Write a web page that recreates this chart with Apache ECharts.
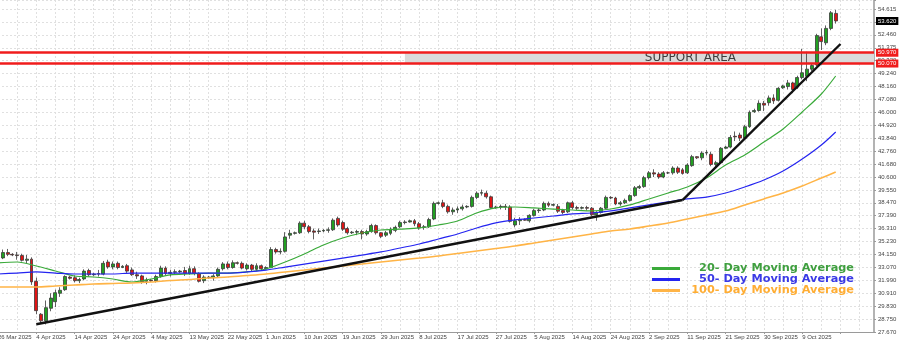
<!DOCTYPE html>
<html><head><meta charset="utf-8">
<script src="https://cdn.jsdelivr.net/npm/echarts@6/dist/echarts.min.js"></script>
<style>html,body{margin:0;padding:0;background:#fff;overflow:hidden}#c{width:905px;height:340px;margin-left:-5px}</style>
</head><body><div id="c"></div>
<script>
// ---- tick labels ----
const tickLabels = ['26 Mar 2025','4 Apr 2025','14 Apr 2025','24 Apr 2025','4 May 2025','13 May 2025','22 May 2025','1 Jun 2025','10 Jun 2025','19 Jun 2025','29 Jun 2025','8 Jul 2025','17 Jul 2025','27 Jul 2025','5 Aug 2025','14 Aug 2025','24 Aug 2025','2 Sep 2025','11 Sep 2025','21 Sep 2025','30 Sep 2025','9 Oct 2025'];
const yTickLabels = ['27.670','28.750','29.830','30.910','31.990','33.070','34.150','35.230','36.310','37.390','38.470','39.550','40.600','41.680','42.760','43.840','44.920','46.000','47.080','48.160','49.240','50.320','51.375','52.460','53.540','54.615'];
const yMin = 27.67, yStep = 1.078, yMax = 55.37;

// ---- daily candles (26 Mar 2025 .. 17 Oct 2025, incl. Sunday bars) ----
const opens = [
33.90,33.85,34.30,34.15,34.10,34.05,33.65,33.75,
31.90,29.15,28.60,29.65,30.20,30.90,31.20,32.25,
32.20,31.95,32.10,32.80,32.45,32.55,32.50,33.50,
33.10,33.40,33.05,33.20,32.85,32.45,32.35,31.90,
32.00,31.95,32.30,33.00,32.55,32.65,32.70,32.80,
32.55,32.95,32.55,31.95,32.25,32.20,32.35,32.95,
33.35,33.05,33.45,33.40,32.95,33.25,32.90,33.20,
32.95,33.05,34.55,34.35,34.40,35.75,35.90,35.95,
36.75,36.45,36.10,36.05,36.10,36.15,36.20,37.15,
36.80,36.30,35.95,36.00,36.05,35.85,36.05,36.55,
35.95,35.75,35.90,36.15,36.45,36.80,36.85,36.95,
36.70,36.40,36.45,37.10,38.40,38.45,38.15,37.70,
37.85,37.95,38.10,38.15,38.90,39.25,39.25,38.95,
38.05,38.10,38.15,38.10,36.60,36.95,37.05,36.95,
37.40,37.80,37.85,38.40,38.25,38.15,37.80,37.70,
38.45,38.05,38.00,38.05,38.00,37.45,37.65,38.00,
38.90,38.85,38.35,38.45,38.65,39.05,39.70,39.80,
40.55,40.95,40.85,40.60,40.95,40.95,41.35,41.20,
40.95,41.55,42.30,42.20,42.60,42.50,41.65,41.80,
43.00,43.10,44.00,44.10,43.85,44.80,46.05,46.15,
46.75,46.80,47.20,47.00,48.05,48.15,48.45,48.10,
48.90,49.00,49.60,49.95,52.30,51.80,53.00,54.25];
const closes = [
34.10,34.30,34.15,34.10,34.05,33.65,33.75,31.85,
29.45,28.60,29.70,30.50,30.95,31.15,32.30,32.15,
31.95,32.05,32.75,32.45,32.50,32.50,33.40,33.10,
33.35,33.05,33.15,32.75,32.45,32.35,31.85,32.00,
31.95,32.30,33.00,32.55,32.65,32.70,32.75,32.55,
32.95,32.55,31.90,32.25,32.20,32.35,32.90,33.35,
33.05,33.45,33.40,33.00,33.25,32.90,33.20,32.95,
33.05,34.55,34.35,34.40,35.60,35.90,35.95,36.75,
36.45,36.05,36.00,36.10,36.15,36.20,37.00,36.60,
36.25,35.95,36.00,36.05,35.85,36.05,36.55,35.95,
35.65,35.95,36.25,36.40,36.80,36.85,36.95,36.70,
36.35,36.45,37.05,38.40,38.45,38.15,37.70,37.85,
37.95,38.10,38.15,38.90,39.25,39.30,38.95,38.05,
38.10,38.15,38.10,36.90,36.95,37.05,37.00,37.40,
37.80,37.85,38.40,38.25,38.30,37.75,37.65,38.45,
38.05,38.00,38.05,38.00,37.45,37.65,38.00,38.90,
38.85,38.35,38.45,38.65,39.05,39.70,39.80,40.55,
40.95,40.85,40.60,40.95,40.95,41.35,41.00,40.90,
41.60,42.30,42.20,42.60,42.65,41.65,41.80,43.00,
43.10,43.90,43.95,43.85,44.80,46.00,46.15,46.75,
46.60,47.20,46.95,48.00,48.20,48.45,47.90,48.90,
49.30,49.60,49.90,52.40,51.90,53.00,54.30,53.62];
const lows = [
33.70,33.75,34.00,34.00,33.70,33.55,33.40,31.60,
29.15,28.40,28.30,29.40,29.75,30.60,31.10,32.05,
31.80,31.75,32.00,32.30,32.35,32.30,32.40,32.95,
32.90,32.90,33.00,32.60,32.35,32.10,31.70,31.65,
31.85,31.80,32.20,32.40,32.30,32.45,32.60,32.35,
32.45,32.40,31.80,31.75,32.10,31.95,32.20,32.80,
32.90,32.95,33.30,32.90,32.80,32.75,32.75,32.80,
32.90,33.00,34.20,34.15,34.30,35.45,35.80,35.85,
36.25,35.90,35.40,35.85,36.00,35.95,36.10,36.45,
36.10,35.80,35.85,35.75,35.40,35.70,35.95,35.80,
35.50,35.60,35.75,36.00,36.35,36.65,36.80,36.50,
36.20,36.20,36.35,37.00,38.30,38.00,37.55,37.45,
37.60,37.80,38.00,38.05,38.75,39.05,38.80,37.95,
37.95,37.90,37.85,36.80,36.40,36.60,36.95,36.80,
37.30,37.60,37.75,38.10,38.15,37.60,37.50,37.60,
37.90,37.85,37.90,37.80,37.35,36.95,37.55,37.90,
38.75,38.25,38.20,38.35,38.55,38.95,39.60,39.70,
40.40,40.60,40.45,40.50,40.85,40.80,40.85,40.80,
40.85,41.45,42.10,42.00,42.40,41.50,41.40,41.70,
42.95,43.00,43.60,43.60,43.70,44.70,45.95,46.05,
46.10,46.55,46.70,46.90,47.95,47.90,47.60,47.95,
48.75,48.60,49.45,49.85,51.20,51.60,52.85,53.40];
const highs = [
34.35,34.55,34.60,34.25,34.35,34.20,34.10,33.90,
32.20,29.25,30.30,30.90,31.20,31.40,32.40,32.35,
32.40,32.20,32.90,32.95,32.60,32.85,33.60,33.70,
33.55,33.55,33.25,33.35,33.05,32.70,32.45,32.20,
32.10,32.45,33.20,33.15,32.85,32.90,32.85,33.10,
33.20,33.15,32.65,32.40,32.35,32.50,33.05,33.50,
33.55,33.65,33.55,33.55,33.40,33.35,33.40,33.30,
33.15,34.75,34.70,34.65,36.00,36.20,36.05,36.90,
36.95,36.60,36.30,36.30,36.25,36.40,37.15,37.30,
36.95,36.45,36.10,36.20,36.20,36.20,36.70,36.65,
36.00,36.10,36.40,36.55,36.95,37.00,37.05,37.10,
36.85,36.60,37.20,38.55,38.55,38.70,38.30,38.05,
38.15,38.30,38.25,39.05,39.40,39.55,39.45,39.05,
38.20,38.30,38.35,38.25,37.20,37.25,37.15,37.50,
37.95,38.00,38.55,38.55,38.40,38.35,37.95,38.55,
38.60,38.20,38.15,38.20,38.10,37.75,38.10,39.05,
39.00,38.95,38.60,38.80,39.15,39.85,39.95,40.70,
41.10,41.25,41.00,41.10,41.05,41.50,41.50,41.35,
41.75,42.45,42.35,42.75,42.85,42.70,41.95,43.10,
43.20,44.10,44.40,44.30,44.95,46.15,46.30,47.00,
46.95,47.40,47.50,48.10,48.30,48.70,48.55,49.05,
51.30,51.05,50.10,52.55,53.00,53.25,54.45,54.55];

// ---- moving averages, read at every 4th bar ----
const maIdx = [0,4,8,12,16,20,24,28,32,36,40,44,48,52,56,60,64,68,72,76,80,84,88,92,96,100,104,108,112,116,120,124,128,132,136,140,144,148,152,156,160,164,168,172,175];
const ma20 = [33.43,33.51,33.18,32.76,32.34,32.26,32.09,31.84,32.09,32.43,32.51,32.59,32.59,32.68,32.93,33.51,34.18,34.93,35.51,35.93,36.18,36.26,36.35,36.60,36.93,37.60,38.02,38.10,38.02,37.93,37.85,37.77,37.93,38.27,38.77,39.27,39.77,40.52,41.60,42.44,43.52,44.61,46.03,47.53,49.03];
const ma50 = [32.51,32.59,32.68,32.59,32.51,32.51,32.51,32.59,32.59,32.59,32.59,32.59,32.59,32.68,32.84,33.09,33.34,33.59,33.84,34.09,34.35,34.68,35.01,35.43,35.85,36.35,36.77,37.02,37.18,37.35,37.52,37.60,37.77,38.02,38.27,38.52,38.77,38.93,39.27,39.77,40.35,41.10,42.10,43.27,44.36];
const ma100 = [31.42,31.42,31.42,31.51,31.59,31.68,31.72,31.76,31.84,31.97,32.05,32.18,32.26,32.38,32.51,32.68,32.84,33.01,33.18,33.34,33.51,33.68,33.84,34.01,34.22,34.43,34.64,34.85,35.10,35.35,35.60,35.85,36.10,36.26,36.51,36.77,37.10,37.43,37.77,38.27,38.77,39.27,39.85,40.52,41.02];

// ---- annotations ----
const supportLevels = [50.97, 50.07];
const supportStartBar = 85;
const trendLower = [[8, 28.32], [143, 38.68]];
const trendSteep = [[143, 38.68], [176, 51.70]];
const seriesNames = ['20- Day Moving Average', '50- Day Moving Average', '100- Day Moving Average'];
const slotCount = 184; // bars plus right-hand empty space

// categories: trading days (with Sunday sessions), Saturdays and Good Friday skipped
const categories = [];
{
  let t = Date.UTC(2025, 2, 26);
  while (categories.length < slotCount) {
    const d = new Date(t);
    const iso = d.toISOString().slice(0, 10);
    if (d.getUTCDay() !== 6 && iso !== '2025-04-18') categories.push(iso);
    t += 86400000;
  }
}

const candleData = opens.map((o, i) => [o, closes[i], lows[i], highs[i]]);
const pairs = vals => maIdx.map((x, j) => [x, vals[j]]);
const lastClose = closes[closes.length - 1];

const chart = echarts.init(document.getElementById('c'), null, { renderer: 'canvas' });
const every = n => (idx) => idx % n === 0;
const legendKey = { [seriesNames[0]]: 'g', [seriesNames[1]]: 'b', [seriesNames[2]]: 'o' };
const richBase = { width: 169, align: 'right', fontFamily: 'DejaVu Sans', fontWeight: 'bold', fontSize: 11.3, height: 9, lineHeight: 9 };

chart.setOption({
  animation: false,
  backgroundColor: '#ffffff',
  grid: { left: 0, right: 26, top: 0, bottom: 8 },
  legend: {
    orient: 'vertical', left: 652, top: 258, itemWidth: 28, itemHeight: 3, itemGap: 0,
    icon: 'rect', selectedMode: false, data: seriesNames,
    formatter: name => '{' + legendKey[name] + '|' + name + '}',
    textStyle: { rich: {
      g: Object.assign({ color: '#3f9f3f' }, richBase),
      b: Object.assign({ color: '#3a3ae6' }, richBase),
      o: Object.assign({ color: '#ffad33' }, richBase)
    } }
  },
  xAxis: {
    type: 'category', data: categories, boundaryGap: false,
    axisLine: { lineStyle: { color: '#9a9a9a', width: 1.2 } },
    axisTick: { show: true, interval: every(8), length: 2, lineStyle: { color: '#9a9a9a' } },
    axisLabel: {
      interval: every(8), align: 'left', margin: 2, fontSize: 6, color: '#444',
      fontFamily: 'Liberation Sans',
      formatter: (v, idx) => tickLabels[idx / 8] || ''
    },
    splitLine: { show: true, interval: every(4), lineStyle: { color: '#e0e0e0', type: [2, 2], width: 1 } }
  },
  yAxis: {
    type: 'value', position: 'right', min: yMin, max: yMax, interval: yStep,
    axisLine: { show: true, lineStyle: { color: '#9a9a9a', width: 1.5 } },
    axisTick: { show: true, length: 2, lineStyle: { color: '#9a9a9a' } },
    axisLabel: {
      margin: 4, fontSize: 6, color: '#444', fontFamily: 'Liberation Sans',
      formatter: v => {
        const k = Math.round((v - yMin) / yStep);
        return Math.abs(v - (yMin + k * yStep)) < 0.002 && yTickLabels[k] ? yTickLabels[k] : '';
      }
    },
    splitLine: { show: true, lineStyle: { color: '#e0e0e0', type: [2, 2], width: 1 } }
  },
  series: [
    {
      type: 'candlestick', name: 'XAGUSD', data: candleData, barWidth: 3.4, z: 3,
      itemStyle: { color: '#22a022', color0: '#e01414', borderColor: '#3a3a3a', borderColor0: '#3a3a3a', borderWidth: 0.8 },
      markArea: {
        silent: true,
        itemStyle: { color: '#dadada' },
        label: { show: true, position: 'inside', offset: [51, 0], color: '#3d3d3d', fontFamily: 'DejaVu Sans', fontSize: 12 },
        data: [[{ name: 'SUPPORT AREA', xAxis: supportStartBar, yAxis: supportLevels[1] }, { xAxis: slotCount - 1, yAxis: supportLevels[0] }]]
      },
      markLine: {
        silent: true, symbol: ['none', 'none'],
        label: { position: 'end', distance: 2, fontSize: 6, fontFamily: 'Liberation Sans', color: '#fff', padding: [1, 2], formatter: p => p.value.toFixed(3) },
        data: [
          { yAxis: supportLevels[0], lineStyle: { color: '#f01c1c', width: 2.5, type: 'solid' }, label: { backgroundColor: '#f01c1c' } },
          { yAxis: supportLevels[1], lineStyle: { color: '#f01c1c', width: 2.5, type: 'solid' }, label: { backgroundColor: '#f01c1c' } },
          { yAxis: lastClose, lineStyle: { color: 'rgba(0,0,0,0)', width: 1 }, label: { backgroundColor: '#000000', color: '#ffffff' } }
        ]
      }
    },
    { type: 'line', name: seriesNames[0], data: pairs(ma20), smooth: 0.3, symbol: 'none', z: 4, color: '#3aaa3a', lineStyle: { color: '#3aaa3a', width: 1.2 } },
    { type: 'line', name: seriesNames[1], data: pairs(ma50), smooth: 0.3, symbol: 'none', z: 4, color: '#2424f0', lineStyle: { color: '#2424f0', width: 1.2 } },
    { type: 'line', name: seriesNames[2], data: pairs(ma100), smooth: 0.3, symbol: 'none', z: 4, color: '#ffb446', lineStyle: { color: '#ffb446', width: 1.6 } },
    { type: 'line', name: 'trend1', data: trendLower, symbol: 'none', z: 5, lineStyle: { color: '#111', width: 2.4 } },
    { type: 'line', name: 'trend2', data: trendSteep, symbol: 'none', z: 5, lineStyle: { color: '#111', width: 2.4 } }
  ]
});
</script>
</body></html>
